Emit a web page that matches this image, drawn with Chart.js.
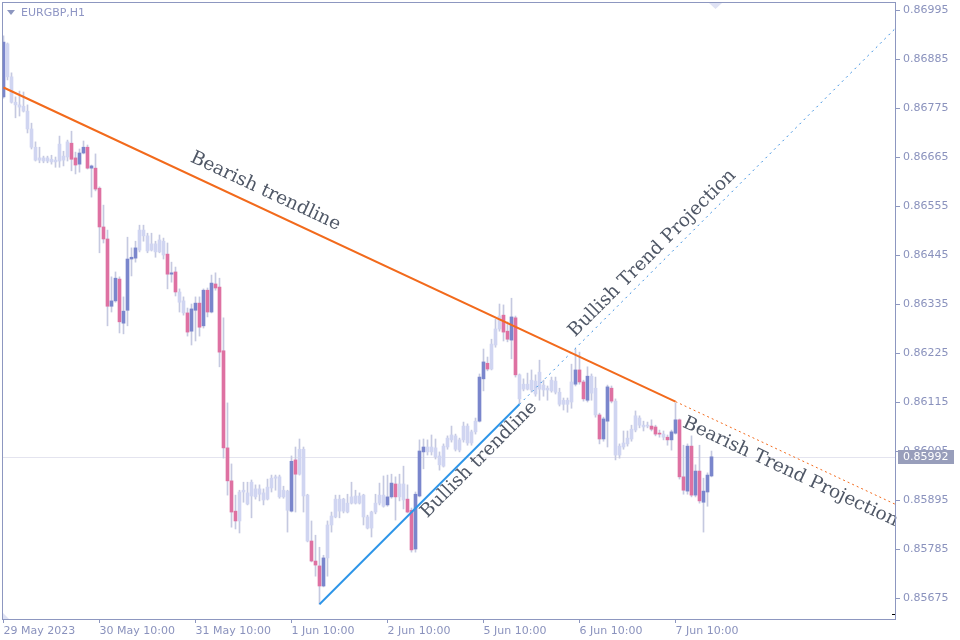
<!DOCTYPE html>
<html>
<head>
<meta charset="utf-8">
<title>EURGBP,H1</title>
<script src="https://cdn.jsdelivr.net/npm/chart.js@4.4.1/dist/chart.umd.min.js"></script>
<style>
    html, body { margin: 0; padding: 0; background: #ffffff; }
    #wrap { width: 960px; height: 640px; }
</style>
</head>
<body>
<div id="wrap"><canvas id="graficoPreco" width="960" height="640"></canvas></div>
<script>
// EURGBP H1 candles, index 0 = 29 May 2023 10:00
const opens = [
    0.86800, 0.86919, 0.86845, 0.86788, 0.86782, 0.86779, 0.86768, 0.86728, 0.86687, 0.86658, 0.86663, 0.86656,
    0.86660, 0.86654, 0.86656, 0.86667, 0.86665, 0.86696, 0.86663, 0.86649, 0.86674, 0.86687, 0.86640, 0.86640,
    0.86595, 0.86508, 0.86481, 0.86330, 0.86342, 0.86391, 0.86292, 0.86321, 0.86436, 0.86438, 0.86456, 0.86501,
    0.86488, 0.86456, 0.86470, 0.86452, 0.86476, 0.86447, 0.86402, 0.86407, 0.86362, 0.86342, 0.86315, 0.86274,
    0.86321, 0.86337, 0.86286, 0.86366, 0.86317, 0.86380, 0.86373, 0.86230, 0.86012, 0.85938, 0.85870, 0.85848,
    0.85913, 0.85911, 0.85904, 0.85920, 0.85908, 0.85911, 0.85897, 0.85922, 0.85944, 0.85947, 0.85902, 0.85915,
    0.85870, 0.85985, 0.85953, 0.86009, 0.85906, 0.85803, 0.85758, 0.85747, 0.85702, 0.85765, 0.85839, 0.85857,
    0.85897, 0.85870, 0.85888, 0.85888, 0.85888, 0.85904, 0.85906, 0.85857, 0.85832, 0.85868, 0.85888, 0.85906,
    0.85884, 0.85902, 0.85931, 0.85902, 0.85931, 0.85897, 0.85872, 0.85785, 0.85904, 0.86003, 0.86014, 0.86003,
    0.86012, 0.85994, 0.85971, 0.86014, 0.86030, 0.86039, 0.86007, 0.86030, 0.86061, 0.86023, 0.86048, 0.86072,
    0.86167, 0.86202, 0.86189, 0.86243, 0.86279, 0.86310, 0.86274, 0.86254, 0.86304, 0.86176, 0.86144, 0.86155,
    0.86142, 0.86162, 0.86144, 0.86153, 0.86142, 0.86140, 0.86162, 0.86137, 0.86110, 0.86119, 0.86115, 0.86155,
    0.86187, 0.86160, 0.86119, 0.86173, 0.86146, 0.86086, 0.86032, 0.86072, 0.86146, 0.86117, 0.85996, 0.86014,
    0.86021, 0.86032, 0.86052, 0.86079, 0.86063, 0.86061, 0.86061, 0.86059, 0.86045, 0.86043, 0.86036, 0.86030,
    0.86045, 0.86075, 0.85947, 0.85915, 0.86016, 0.85906, 0.85960, 0.85890, 0.85913, 0.85949
];
const highs = [
    0.86937, 0.86921, 0.86854, 0.86800, 0.86813, 0.86811, 0.86782, 0.86741, 0.86699, 0.86687, 0.86667, 0.86667,
    0.86669, 0.86665, 0.86712, 0.86678, 0.86703, 0.86723, 0.86676, 0.86683, 0.86701, 0.86692, 0.86647, 0.86672,
    0.86598, 0.86557, 0.86501, 0.86396, 0.86407, 0.86396, 0.86351, 0.86485, 0.86461, 0.86476, 0.86512, 0.86512,
    0.86494, 0.86494, 0.86476, 0.86490, 0.86483, 0.86472, 0.86429, 0.86418, 0.86369, 0.86351, 0.86326, 0.86335,
    0.86351, 0.86351, 0.86369, 0.86371, 0.86400, 0.86405, 0.86393, 0.86304, 0.86113, 0.85976, 0.85906, 0.85917,
    0.85935, 0.85935, 0.85940, 0.85929, 0.85929, 0.85920, 0.85942, 0.85951, 0.85951, 0.85951, 0.85926, 0.85917,
    0.85994, 0.86014, 0.86032, 0.86014, 0.85908, 0.85848, 0.85816, 0.85789, 0.85771, 0.85848, 0.85868, 0.85906,
    0.85906, 0.85899, 0.85908, 0.85935, 0.85917, 0.85911, 0.85908, 0.85861, 0.85870, 0.85908, 0.85933, 0.85949,
    0.85951, 0.85953, 0.85947, 0.85953, 0.85971, 0.85929, 0.85877, 0.85913, 0.86030, 0.86032, 0.86030, 0.86041,
    0.86032, 0.86003, 0.86021, 0.86039, 0.86061, 0.86043, 0.86034, 0.86070, 0.86066, 0.86052, 0.86079, 0.86178,
    0.86234, 0.86216, 0.86256, 0.86301, 0.86335, 0.86333, 0.86295, 0.86348, 0.86308, 0.86178, 0.86167, 0.86180,
    0.86187, 0.86176, 0.86209, 0.86164, 0.86151, 0.86171, 0.86171, 0.86146, 0.86124, 0.86124, 0.86200, 0.86234,
    0.86227, 0.86164, 0.86194, 0.86178, 0.86171, 0.86090, 0.86081, 0.86153, 0.86151, 0.86122, 0.86021, 0.86050,
    0.86050, 0.86063, 0.86095, 0.86084, 0.86072, 0.86070, 0.86075, 0.86063, 0.86052, 0.86050, 0.86041, 0.86052,
    0.86113, 0.86077, 0.86018, 0.86021, 0.86039, 0.85974, 0.86018, 0.85944, 0.85956, 0.86005
];
const lows = [
    0.86797, 0.86838, 0.86786, 0.86753, 0.86757, 0.86766, 0.86719, 0.86683, 0.86656, 0.86652, 0.86652, 0.86652,
    0.86649, 0.86642, 0.86642, 0.86645, 0.86656, 0.86634, 0.86627, 0.86631, 0.86672, 0.86638, 0.86575, 0.86589,
    0.86450, 0.86472, 0.86286, 0.86317, 0.86339, 0.86270, 0.86268, 0.86286, 0.86398, 0.86429, 0.86452, 0.86476,
    0.86450, 0.86454, 0.86440, 0.86450, 0.86436, 0.86369, 0.86384, 0.86353, 0.86317, 0.86310, 0.86263, 0.86243,
    0.86252, 0.86263, 0.86281, 0.86306, 0.86315, 0.86366, 0.86194, 0.85989, 0.85906, 0.85834, 0.85830, 0.85821,
    0.85890, 0.85884, 0.85855, 0.85897, 0.85893, 0.85884, 0.85895, 0.85913, 0.85917, 0.85899, 0.85899, 0.85823,
    0.85868, 0.85868, 0.85951, 0.85868, 0.85801, 0.85756, 0.85724, 0.85661, 0.85700, 0.85724, 0.85823, 0.85855,
    0.85855, 0.85866, 0.85866, 0.85886, 0.85886, 0.85886, 0.85839, 0.85830, 0.85812, 0.85864, 0.85884, 0.85879,
    0.85881, 0.85899, 0.85850, 0.85893, 0.85875, 0.85866, 0.85778, 0.85778, 0.85902, 0.85965, 0.85996, 0.85996,
    0.85987, 0.85962, 0.85969, 0.86009, 0.86025, 0.86005, 0.86003, 0.86025, 0.86018, 0.86018, 0.86043, 0.86070,
    0.86140, 0.86185, 0.86187, 0.86238, 0.86274, 0.86252, 0.86250, 0.86212, 0.86171, 0.86110, 0.86140, 0.86142,
    0.86137, 0.86128, 0.86119, 0.86128, 0.86119, 0.86137, 0.86133, 0.86106, 0.86097, 0.86092, 0.86101, 0.86151,
    0.86155, 0.86117, 0.86115, 0.86119, 0.86081, 0.86021, 0.86027, 0.86014, 0.86113, 0.85985, 0.85989, 0.86009,
    0.86016, 0.86027, 0.86048, 0.86057, 0.86050, 0.86057, 0.86050, 0.86039, 0.86036, 0.86030, 0.86018, 0.86007,
    0.86043, 0.85942, 0.85908, 0.85908, 0.85902, 0.85902, 0.85888, 0.85823, 0.85881, 0.85947
];
const closes = [
    0.86923, 0.86845, 0.86788, 0.86782, 0.86777, 0.86768, 0.86728, 0.86687, 0.86658, 0.86663, 0.86656, 0.86663,
    0.86654, 0.86658, 0.86694, 0.86658, 0.86699, 0.86660, 0.86647, 0.86674, 0.86687, 0.86640, 0.86645, 0.86593,
    0.86508, 0.86481, 0.86330, 0.86342, 0.86393, 0.86295, 0.86319, 0.86436, 0.86440, 0.86461, 0.86501, 0.86488,
    0.86454, 0.86470, 0.86452, 0.86479, 0.86445, 0.86402, 0.86405, 0.86362, 0.86339, 0.86315, 0.86272, 0.86324,
    0.86337, 0.86283, 0.86366, 0.86317, 0.86382, 0.86371, 0.86227, 0.86012, 0.85938, 0.85868, 0.85848, 0.85913,
    0.85917, 0.85886, 0.85935, 0.85902, 0.85920, 0.85895, 0.85924, 0.85944, 0.85947, 0.85902, 0.85917, 0.85872,
    0.85982, 0.85953, 0.86009, 0.85904, 0.85803, 0.85758, 0.85749, 0.85702, 0.85765, 0.85839, 0.85859, 0.85897,
    0.85870, 0.85897, 0.85868, 0.85902, 0.85904, 0.85888, 0.85857, 0.85832, 0.85868, 0.85888, 0.85906, 0.85881,
    0.85902, 0.85933, 0.85902, 0.85931, 0.85895, 0.85868, 0.85783, 0.85908, 0.86005, 0.86014, 0.86003, 0.86014,
    0.85992, 0.85974, 0.86016, 0.86034, 0.86041, 0.86009, 0.86030, 0.86061, 0.86023, 0.86048, 0.86072, 0.86171,
    0.86205, 0.86189, 0.86245, 0.86279, 0.86308, 0.86272, 0.86256, 0.86306, 0.86176, 0.86122, 0.86155, 0.86144,
    0.86164, 0.86133, 0.86182, 0.86142, 0.86146, 0.86164, 0.86137, 0.86110, 0.86119, 0.86110, 0.86160, 0.86187,
    0.86160, 0.86122, 0.86173, 0.86135, 0.86086, 0.86032, 0.86077, 0.86149, 0.86117, 0.85996, 0.86016, 0.86023,
    0.86034, 0.86054, 0.86084, 0.86063, 0.86059, 0.86063, 0.86054, 0.86043, 0.86043, 0.86036, 0.86030, 0.86048,
    0.86075, 0.85947, 0.85917, 0.86016, 0.85906, 0.85960, 0.85893, 0.85915, 0.85951, 0.85992
];
// candles painted in full colour on the chart (the rest are pale)
const marked = [
    0, 17, 18, 19, 20, 21, 22, 23, 24, 25, 26, 27, 28, 29, 30, 31, 32, 33, 41, 42, 43,
    46, 47, 48, 49, 50, 51, 52, 53, 54, 55, 56, 57, 58, 72, 73, 77, 78, 79, 80,
    96, 97, 98, 101, 102, 103, 104, 105, 119, 120, 121, 125, 126, 127, 128,
    143, 144, 145, 146, 149, 150, 151, 152, 162, 163, 164, 166, 167, 168, 169, 170,
    171, 172, 173, 174, 175, 176, 177
];
const dayTicks = [0, 24, 48, 72, 96, 120, 144, 168];
const dayLabels = ['29 May 2023', '30 May 10:00', '31 May 10:00', '1 Jun 10:00',
    '2 Jun 10:00', '5 Jun 10:00', '6 Jun 10:00', '7 Jun 10:00'];
const priceTicks = [0.85675, 0.85785, 0.85895, 0.86005, 0.86115, 0.86225, 0.86335,
    0.86445, 0.86555, 0.86665, 0.86775, 0.86885, 0.86995];
// trendline anchors: [candle index, price]
const bearishTrend = [[0, 0.86821], [168, 0.86116]];
const bullishTrend = [[79, 0.85661], [129, 0.86110]];

window.onload = function () {
    const frameColor = '#8d97c0';
    const labelColor = '#8a92bd';
    const axisFont = { family: 'DejaVu Sans', size: 11 };
    const xMin = -0.375, xMax = 223.125;
    const yMin = 0.856279, yMax = 0.870130;
    const markedSet = new Set(marked);

    function trendAt(line, i) {
        const [i0, p0] = line[0];
        const [i1, p1] = line[1];
        return p0 + (i - i0) * (p1 - p0) / (i1 - i0);
    }
    function segment(line, a, b) {
        return [{ x: a, y: trendAt(line, a) }, { x: b, y: trendAt(line, b) }];
    }

    const wicks = highs.map((h, i) => ({ x: i, y: [lows[i], h] }));
    const bodies = opens.map((o, i) => ({ x: i, y: [o, closes[i]] }));

    const bodyColor = function (ctx) {
        const i = ctx.dataIndex;
        if (!markedSet.has(i)) return '#d0d5f1';
        return closes[i] >= opens[i] ? '#7a86cc' : '#de71a2';
    };

    const trendNotes = {
        id: 'trendNotes',
        beforeDatasetsDraw(chart) {
            const { ctx, chartArea, scales } = chart;
            const py = Math.round(scales.y.getPixelForValue(closes[closes.length - 1])) + 0.5;
            ctx.save();
            ctx.strokeStyle = '#e4e4ef';
            ctx.lineWidth = 1;
            ctx.beginPath();
            ctx.moveTo(chartArea.left, py);
            ctx.lineTo(chartArea.right, py);
            ctx.stroke();
            ctx.restore();
        },
        afterDatasetsDraw(chart) {
            const { ctx, scales } = chart;
            const notes = [
                { text: 'Bearish trendline', line: bearishTrend, at: 45.2, off: -12 },
                { text: 'Bullish trendline', line: bullishTrend, at: 103.2, off: 15.5 },
                { text: 'Bullish Trend Projection', line: bullishTrend, at: 144.3, off: -8 },
                { text: 'Bearish Trend Projection', line: bearishTrend, at: 171.7, off: 20 }
            ];
            ctx.save();
            ctx.font = '18.5px "DejaVu Serif"';
            ctx.fillStyle = '#4f5766';
            ctx.textAlign = 'left';
            ctx.textBaseline = 'alphabetic';
            notes.forEach(function (n) {
                const x0 = scales.x.getPixelForValue(n.at);
                const y0 = scales.y.getPixelForValue(trendAt(n.line, n.at));
                const x1 = scales.x.getPixelForValue(n.at + 10);
                const y1 = scales.y.getPixelForValue(trendAt(n.line, n.at + 10));
                ctx.save();
                ctx.translate(x0, y0);
                ctx.rotate(Math.atan2(y1 - y0, x1 - x0));
                ctx.fillText(n.text, 0, n.off);
                ctx.restore();
            });
            ctx.restore();
        },
        afterDraw(chart) {
            const { ctx, chartArea, scales } = chart;
            ctx.save();
            // frame
            ctx.strokeStyle = frameColor;
            ctx.lineWidth = 1;
            ctx.strokeRect(chartArea.left + 0.5, chartArea.top + 0.5,
                chartArea.right - chartArea.left - 1, chartArea.bottom - chartArea.top);
            // symbol title
            ctx.fillStyle = frameColor;
            ctx.beginPath();
            ctx.moveTo(7, 10); ctx.lineTo(15, 10); ctx.lineTo(11, 15); ctx.closePath();
            ctx.fill();
            ctx.font = '11px "DejaVu Sans"';
            ctx.fillStyle = '#8e95c4';
            ctx.textBaseline = 'middle';
            ctx.fillText('EURGBP,H1', 21, 13);
            // shift marker on top and corner marks
            ctx.fillStyle = '#dfe2f4';
            ctx.beginPath();
            ctx.moveTo(709, chartArea.top + 1); ctx.lineTo(722, chartArea.top + 1); ctx.lineTo(715.5, chartArea.top + 7); ctx.closePath();
            ctx.fill();
            ctx.beginPath();
            ctx.moveTo(chartArea.left + 1, chartArea.bottom - 6); ctx.lineTo(chartArea.left + 1, chartArea.bottom); ctx.lineTo(chartArea.left + 7, chartArea.bottom); ctx.closePath();
            ctx.fill();
            ctx.fillStyle = '#000000';
            ctx.fillRect(chartArea.right - 4, chartArea.bottom - 5, 3, 1);
            // last price box
            const last = closes[closes.length - 1];
            const py = Math.round(scales.y.getPixelForValue(last));
            ctx.fillStyle = '#989ebb';
            ctx.fillRect(chartArea.right + 2, py - 7, 56, 14);
            ctx.fillStyle = '#ffffff';
            ctx.font = '11px "DejaVu Sans"';
            ctx.textBaseline = 'middle';
            ctx.fillText(last.toFixed(5), chartArea.right + 7, py + 0.5);
            ctx.restore();
        }
    };

    const ctxPreco = document.getElementById('graficoPreco').getContext('2d');
    const graficoPreco = new Chart(ctxPreco, {
        type: 'bar',
        data: {
            datasets: [{
                label: 'Wicks',
                data: wicks,
                backgroundColor: '#c5c9e0',
                barThickness: 1,
                grouped: false,
                order: 3
            },
            {
                label: 'Bodies',
                data: bodies,
                backgroundColor: bodyColor,
                barThickness: 3,
                minBarLength: 1,
                grouped: false,
                order: 2
            },
            {
                type: 'line',
                label: 'Bearish trendline',
                data: segment(bearishTrend, 0, 168),
                borderColor: '#f26a1c',
                borderWidth: 2,
                pointRadius: 0,
                order: 1
            },
            {
                type: 'line',
                label: 'Bearish Trend Projection',
                data: segment(bearishTrend, 168, xMax),
                borderColor: '#f26a1c',
                borderWidth: 1,
                borderDash: [2, 3],
                pointRadius: 0,
                order: 1
            },
            {
                type: 'line',
                label: 'Bullish trendline',
                data: segment(bullishTrend, 79, 129),
                borderColor: '#2e95e8',
                borderWidth: 2,
                pointRadius: 0,
                order: 1
            },
            {
                type: 'line',
                label: 'Bullish Trend Projection',
                data: segment(bullishTrend, 129, xMax),
                borderColor: '#3a8ee0',
                borderWidth: 1,
                borderDash: [2, 4],
                pointRadius: 0,
                order: 1
            }]
        },
        options: {
            responsive: false,
            animation: false,
            events: [],
            layout: { padding: { left: 2, top: 2, right: 0, bottom: 0 } },
            scales: {
                x: {
                    type: 'linear',
                    position: 'bottom',
                    min: xMin,
                    max: xMax,
                    offset: false,
                    border: { display: false },
                    grid: {
                        offset: false,
                        drawOnChartArea: false,
                        drawTicks: true,
                        tickLength: 4,
                        color: frameColor
                    },
                    ticks: {
                        autoSkip: false,
                        maxRotation: 0,
                        align: 'start',
                        padding: 2,
                        color: labelColor,
                        font: axisFont,
                        callback: function (value) {
                            const k = dayTicks.indexOf(value);
                            return k >= 0 ? dayLabels[k] : '';
                        }
                    },
                    afterBuildTicks: function (scale) {
                        scale.ticks = dayTicks.map(v => ({ value: v }));
                    },
                    afterFit: function (scale) {
                        scale.height = 21;
                        scale.paddingLeft = 0;
                        scale.paddingRight = 0;
                    }
                },
                y: {
                    type: 'linear',
                    position: 'right',
                    min: yMin,
                    max: yMax,
                    border: { display: false },
                    grid: {
                        drawOnChartArea: false,
                        drawTicks: true,
                        tickLength: 4,
                        color: frameColor
                    },
                    ticks: {
                        autoSkip: false,
                        padding: 3,
                        color: labelColor,
                        font: axisFont,
                        callback: function (value) {
                            return value.toFixed(5);
                        }
                    },
                    afterBuildTicks: function (scale) {
                        scale.ticks = priceTicks.map(v => ({ value: v }));
                    },
                    afterFit: function (scale) {
                        scale.width = 64;
                        scale.paddingTop = 0;
                        scale.paddingBottom = 0;
                    }
                }
            },
            plugins: {
                legend: { display: false },
                tooltip: { enabled: false },
                title: { display: false }
            }
        },
        plugins: [trendNotes]
    });
};
</script>
</body>
</html>
